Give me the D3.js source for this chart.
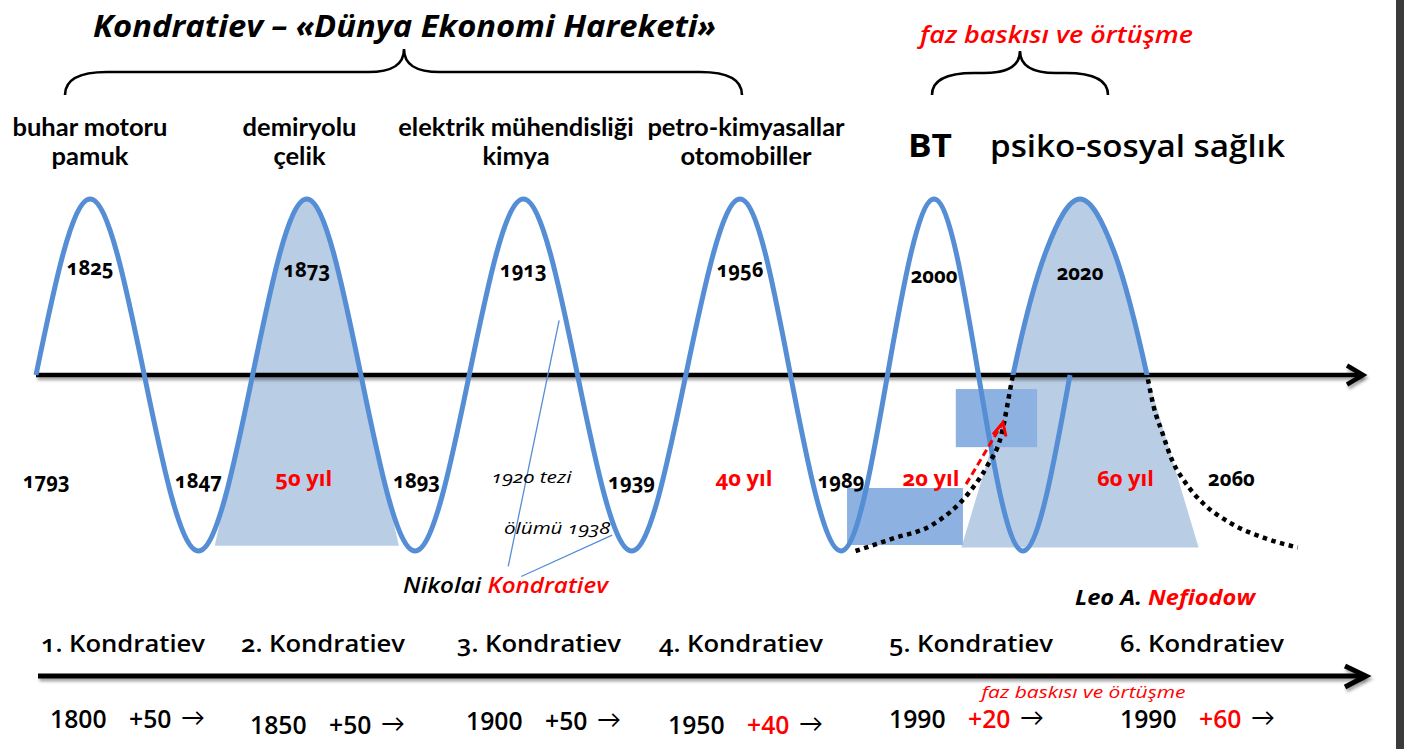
<!DOCTYPE html>
<html>
<head>
<meta charset="utf-8">
<script src="https://cdn.jsdelivr.net/npm/d3@7/dist/d3.min.js"></script>
<style>
body { margin: 0; background: #fff; }
svg { display: block; font-family: "Open Sans", Lato, sans-serif; }
text { font-variant-numeric: oldstyle-nums; }
text.lining { font-variant-numeric: lining-nums; }
</style>
</head>
<body>
<div id="chart"></div>
<script>
// turning points of the long wave, one per quarter cycle (1 = peak, -1 = trough)
var waveLevels = [0, 1, 0, -1, 0, 1, 0, -1, 0, 1, 0, -1, 0, 1, 0, -1, 0, 1, 0, -1, 0];
// 6th wave (bell shape with dotted tails), phase in quarter cycles round its peak
var humpPhase = [-3.35, -2.8, -2.2, -1.66, -1.39, -1.18, -1, -0.5, 0, 0.5, 1, 1.1, 1.23, 1.37, 1.57, 1.84, 2.24, 2.78, 3.25];
var humpLevel = [-1, -0.93, -0.85, -0.67, -0.52, -0.35, 0, 0.71, 1, 0.71, 0, -0.18, -0.33, -0.48, -0.61, -0.73, -0.84, -0.93, -0.98];

var peakYears = [1825, 1873, 1913, 1956, 2000, 2020];
var troughYears = [1793, 1847, 1893, 1939, 1989, 2060];
var cycleYears = [null, 50, null, 40, 20, 60];

var techTop = ["buhar motoru", "demiryolu", "elektrik mühendisliği", "petro-kimyasallar"];
var techBottom = ["pamuk", "çelik", "kimya", "otomobiller"];

var waveNames = ["1. Kondratiev", "2. Kondratiev", "3. Kondratiev", "4. Kondratiev", "5. Kondratiev", "6. Kondratiev"];
var startYears = [1800, 1850, 1900, 1950, 1990, 1990];
var stepYears = [50, 50, 50, 40, 20, 60];

var W = 1404, H = 749;
var blue = "#558ed5", fillBlue = "#b9cde5", boxBlue = "#8db2e1", red = "#ff0000";

var svg = d3.select("#chart").append("svg").attr("width", W).attr("height", H);
var defs = svg.append("defs");
defs.append("filter").attr("id", "shadow").attr("filterUnits", "userSpaceOnUse")
  .attr("x", 0).attr("y", 0).attr("width", W).attr("height", H)
  .append("feDropShadow").attr("dx", 1.5).attr("dy", 3).attr("stdDeviation", 1.8)
  .attr("flood-color", "#000").attr("flood-opacity", 0.35);

// scales
var xq = d3.scaleLinear().domain([0, 13, 15, 17, 19, 20]).range([36, 740, 841, 934, 1023, 1070]);
var xh = d3.scaleLinear().domain([0, 1]).range([1080, 1147]);
var y = d3.scaleLinear().domain([-1, 1]).range([551, 199]);
var axisY = y(0);
var colX = d3.scaleOrdinal().domain(waveNames).range([41, 241, 457, 659, 889, 1120]);

var wavePts = waveLevels.map(function(v, i) { return [i, v]; });
var humpPts = humpPhase.map(function(p, i) { return [p, humpLevel[i]]; });

var waveLine = d3.line().x(function(d) { return xq(d[0]); }).y(function(d) { return y(d[1]); }).curve(d3.curveNatural);
var waveArea = d3.area().x(function(d) { return xq(d[0]); }).y0(axisY).y1(function(d) { return y(d[1]); }).curve(d3.curveNatural);
var humpLine = d3.line().x(function(d) { return xh(d[0]); }).y(function(d) { return y(d[1]); }).curve(d3.curveMonotoneX);
var humpArea = d3.area().x(function(d) { return xh(d[0]); }).y0(axisY).y1(function(d) { return y(d[1]); }).curve(d3.curveMonotoneX);

// clip paths
function clipRect(id, x0, y0, x1, y1) {
  defs.append("clipPath").attr("id", id).append("rect")
    .attr("x", x0).attr("y", y0).attr("width", x1 - x0).attr("height", y1 - y0);
}
clipRect("c2", xq(4), 0, xq(6), axisY);
clipRect("c6", xh(-1), 0, xh(1), axisY);
clipRect("above", 0, 0, W, axisY);
clipRect("below", 0, axisY, W, H);

// light fills: 2nd and 6th wave
var baseY = y(-0.97);
svg.append("path").attr("d", waveArea(wavePts)).attr("fill", fillBlue).attr("clip-path", "url(#c2)");
svg.append("path").attr("fill", fillBlue)
  .attr("d", "M" + xq(4) + "," + axisY + "L" + xq(6) + "," + axisY + "L" + xq(6.7) + "," + baseY + "L" + xq(3.3) + "," + baseY + "Z");
svg.append("path").attr("d", humpArea(humpPts)).attr("fill", fillBlue).attr("clip-path", "url(#c6)");
svg.append("path").attr("fill", fillBlue)
  .attr("d", "M" + xh(-1) + "," + axisY + "L" + xh(1) + "," + axisY + "L" + xh(1.77) + "," + y(-0.98) + "L" + xh(-1.77) + "," + y(-0.98) + "Z");

// overlap boxes
var boxes = [
  {q0: 15.13, q1: 17.65, v0: -0.642, v1: -0.966},
  {q0: 17.49, q1: 19.3, v0: -0.08, v1: -0.41}
];
svg.selectAll("rect.box").data(boxes).enter().append("rect").attr("class", "box")
  .attr("x", function(d) { return xq(d.q0); })
  .attr("y", function(d) { return y(d.v0); })
  .attr("width", function(d) { return xq(d.q1) - xq(d.q0); })
  .attr("height", function(d) { return y(d.v1) - y(d.v0); })
  .attr("fill", boxBlue);

// axis at top
svg.append("path").attr("d", "M36," + axisY + "H1362")
  .attr("stroke", "#000").attr("stroke-width", 4.5).attr("fill", "none").attr("filter", "url(#shadow)");
svg.append("path").attr("d", "M1347," + (axisY - 9.5) + "L1363," + axisY + "L1347," + (axisY + 9.5))
  .attr("stroke", "#000").attr("stroke-width", 4.5).attr("fill", "none").attr("filter", "url(#shadow)");

// waves
svg.append("path").attr("d", waveLine(wavePts)).attr("fill", "none")
  .attr("stroke", blue).attr("stroke-width", 5);
svg.append("path").attr("d", humpLine(humpPts)).attr("fill", "none")
  .attr("stroke", blue).attr("stroke-width", 5).attr("clip-path", "url(#above)");
svg.append("path").attr("d", humpLine(humpPts)).attr("fill", "none")
  .attr("stroke", "#000").attr("stroke-width", 4.5).attr("stroke-dasharray", "4.5,4.5")
  .attr("clip-path", "url(#below)");

// red dashed arrow (phase pressure)
var ax0 = xh(-1.70), ay0 = y(-0.62), ax1 = xh(-1.15), ay1 = y(-0.27);
svg.append("line").attr("x1", ax0).attr("y1", ay0).attr("x2", ax1).attr("y2", ay1)
  .attr("stroke", red).attr("stroke-width", 3).attr("stroke-dasharray", "7,4");
svg.append("path").attr("d", "M" + (ax1 - 10) + "," + (ay1 + 12) + "L" + ax1 + "," + ay1 + "L" + (ax1 + 3) + "," + (ay1 + 14))
  .attr("stroke", red).attr("stroke-width", 3).attr("fill", "none");

// leader lines to Nikolai Kondratiev
var leaders = [[9.66, 0.31, 8.72, -1.088], [10.64, -0.91, 8.96, -1.145]];
svg.selectAll("line.leader").data(leaders).enter().append("line").attr("class", "leader")
  .attr("x1", function(d) { return xq(d[0]); }).attr("y1", function(d) { return y(d[1]); })
  .attr("x2", function(d) { return xq(d[2]); }).attr("y2", function(d) { return y(d[3]); })
  .attr("stroke", blue).attr("stroke-width", 1.3);

// bottom timeline
svg.append("path").attr("d", "M38,676H1364")
  .attr("stroke", "#000").attr("stroke-width", 5).attr("fill", "none").attr("filter", "url(#shadow)");
svg.append("path").attr("d", "M1345,666L1366,676L1345,687")
  .attr("stroke", "#000").attr("stroke-width", 5).attr("fill", "none").attr("filter", "url(#shadow)");

// braces
function brace(x0, xm, x1, yTop, yMid, yBot) {
  return "M" + x0 + "," + yBot + "C" + x0 + "," + (yMid + 7) + " " + (x0 + 14) + "," + yMid + " " + (x0 + 42) + "," + yMid +
    "L" + (xm - 36) + "," + yMid + "C" + (xm - 12) + "," + yMid + " " + xm + "," + (yMid - 7) + " " + xm + "," + yTop +
    "C" + xm + "," + (yMid - 7) + " " + (xm + 12) + "," + yMid + " " + (xm + 36) + "," + yMid +
    "L" + (x1 - 42) + "," + yMid + "C" + (x1 - 14) + "," + yMid + " " + x1 + "," + (yMid + 7) + " " + x1 + "," + yBot;
}
svg.append("path").attr("d", brace(65, 404, 742, 49, 72, 95))
  .attr("stroke", "#000").attr("stroke-width", 2.6).attr("fill", "none");
svg.append("path").attr("d", brace(932, 1020, 1108, 51, 73, 95))
  .attr("stroke", "#000").attr("stroke-width", 2.6).attr("fill", "none");

// ---- text ----
function label(x, yy, txt, opts) {
  opts = opts || {};
  var t = svg.append("text").attr("x", x).attr("y", yy)
    .attr("text-anchor", opts.anchor || "middle")
    .attr("font-size", opts.size || 20)
    .attr("font-weight", opts.weight || "normal")
    .attr("font-style", opts.style || "normal")
    .attr("fill", opts.color || "#000")
    .text(txt);
  if (opts.family) t.attr("font-family", opts.family);
  if (opts.cls) t.attr("class", opts.cls);
  if (opts.sx) squeeze(t, opts.sx);
  return t;
}
// horizontal scaling so the fallback fonts keep the widths of the original
function squeeze(t, sx) {
  var w = t.node().getComputedTextLength();
  t.attr("textLength", w * sx).attr("lengthAdjust", "spacingAndGlyphs");
}
function widthOf(txt, size, weight, style, cls, family) {
  var t = label(-999, -999, txt, {size: size, weight: weight, style: style, cls: cls, family: family});
  var w = t.node().getComputedTextLength();
  t.remove();
  return w;
}

var sTitle = 623 / widthOf("Kondratiev – «Dünya Ekonomi Hareketi»", 30, "bold", "italic");
label(404.5, 37, "Kondratiev – «Dünya Ekonomi Hareketi»", {size: 30, weight: "bold", style: "italic", sx: sTitle});
var sFaz = 273 / widthOf("faz baskısı ve örtüşme", 24, 600, "italic");
label(1056.5, 43, "faz baskısı ve örtüşme", {size: 24, weight: 600, style: "italic", color: red, sx: sFaz});

// technologies: two lines (Lato keeps the two line boxes apart)
var sTech = 155 / widthOf("buhar motoru", 24, "bold", "normal", null, "Lato");
var techX = [90, 299.5, 516, 746];
techTop.forEach(function(t, i) {
  label(techX[i], 135.8, t, {size: 24, weight: "bold", family: "Lato", sx: sTech});
  label(techX[i], 165.2, techBottom[i], {size: 24, weight: "bold", family: "Lato", sx: sTech});
});
label(930, 156.7, "BT", {size: 33, weight: "bold", sx: 44 / widthOf("BT", 33, "bold")});
label(1137.5, 156.7, "psiko-sosyal sağlık", {size: 31, weight: 600, sx: 295 / widthOf("psiko-sosyal sağlık", 31, 600)});

// peak years
var sNum = 46.7 / widthOf("1825", 21, "bold");
var peakBase = [275, 277, 277, 277, 283, 280];
peakYears.forEach(function(yr, i) {
  var px = i < 5 ? xq(1 + 4 * i) : xh(0);
  label(px, peakBase[i], yr, {size: 21, weight: "bold", sx: sNum});
});

// trough years
var troughX = [xq(0.19), xq(3), xq(7.03), xq(11), xq(15), xh(2.26)];
var troughBase = [488, 488, 488, 489, 488, 486];
troughYears.forEach(function(yr, i) {
  label(troughX[i], troughBase[i], yr, {size: 21, weight: "bold", sx: sNum});
});

// cycle lengths
var sYil = 57 / widthOf("50 yıl", 21, "bold");
var cycleX = [null, xq(5) - 3, null, xq(13) + 4, xq(17) - 3, xh(0.68)];
cycleYears.forEach(function(v, i) {
  if (v === null) return;
  label(cycleX[i], 486, v + " yıl", {size: 21, weight: "bold", color: red, sx: sYil});
});

label(531.5, 483.3, "1920 tezi", {size: 17, style: "italic", sx: 80 / widthOf("1920 tezi", 17, "normal", "italic")});
label(557, 534, "ölümü 1938", {size: 17, style: "italic", sx: 106 / widthOf("ölümü 1938", 17, "normal", "italic")});

var nk = label(505.5, 593, "", {size: 22, weight: 600, style: "italic"});
nk.append("tspan").text("Nikolai ");
nk.append("tspan").attr("fill", red).text("Kondratiev");
squeeze(nk, 205 / nk.node().getComputedTextLength());

var lo = label(1165, 605, "", {size: 21, weight: "bold", style: "italic"});
lo.append("tspan").text("Leo A. ");
lo.append("tspan").attr("fill", red).text("Nefiodow");
squeeze(lo, 180 / lo.node().getComputedTextLength());

// Kondratiev names
var sName = 164 / widthOf("1. Kondratiev", 23.5, 600);
waveNames.forEach(function(n) {
  label(colX(n), 651.7, n, {size: 23.5, weight: 600, anchor: "start", sx: sName});
});

// start year + length (lining figures here)
var sYear = 56.6 / widthOf("1800", 25, 600, "normal", "lining");
var rowBase = [728, 734, 730, 734, 728, 728];
waveNames.forEach(function(n, i) {
  var x0 = colX(n) + (i < 4 ? 9 : 0);
  var yy = rowBase[i];
  label(x0, yy, startYears[i], {size: 25, weight: 600, anchor: "start", sx: sYear, cls: "lining"});
  label(x0 + 79, yy, "+" + stepYears[i], {size: 25, weight: 600, anchor: "start", cls: "lining",
    color: stepYears[i] === 50 ? "#000" : red, sx: sYear});
  label(x0 + 131, yy - 2, "→", {size: 24, anchor: "start"});
});
label(1083.5, 698, "faz baskısı ve örtüşme", {size: 17, style: "italic", color: red,
  sx: 204 / widthOf("faz baskısı ve örtüşme", 17, "normal", "italic")});

// right window edge
svg.append("rect").attr("x", 1396).attr("y", 0).attr("width", 8).attr("height", H).attr("fill", "#3a3a3a");
</script>
</body>
</html>
